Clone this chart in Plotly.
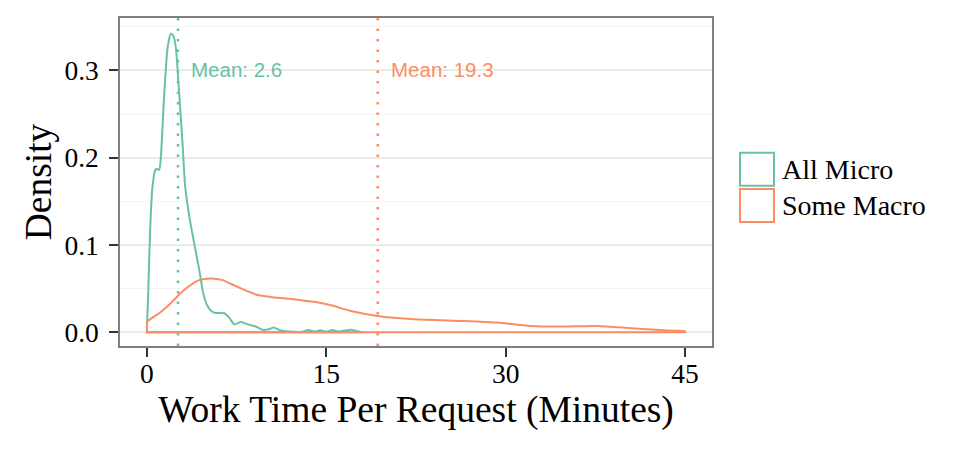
import plotly.graph_objects as go

# ---------------- data ----------------
series_names = ["All Micro", "Some Macro"]
series_colors = ["#66C2A5", "#FC8D62"]
series_means = [2.6, 19.3]

micro_x = [0.0, 0.11, 0.28, 0.47, 0.70, 0.85, 1.03, 1.17, 1.45, 1.73, 2.0, 2.2, 2.42,
           2.7, 2.98, 3.2, 3.54, 3.95, 4.37, 4.7, 5.07, 5.4, 5.77, 6.1, 6.46, 6.88,
           7.3, 7.86, 8.4, 9.1, 9.67, 10.2, 10.6, 11.06, 11.6, 12.3, 13.0, 13.5,
           14.0, 14.5, 15.0, 15.5, 16.0, 16.6, 17.1, 17.6, 18.0]
micro_y = [0.004, 0.045, 0.121, 0.167, 0.186, 0.187, 0.186, 0.201, 0.273, 0.326,
           0.342, 0.340, 0.326, 0.273, 0.216, 0.167, 0.133, 0.102, 0.072, 0.045,
           0.030, 0.024, 0.022, 0.022, 0.0217, 0.0167, 0.009, 0.0118, 0.009, 0.0065,
           0.0027, 0.0034, 0.0053, 0.0027, 0.001, 0.0004, 0.0006, 0.0025, 0.0008,
           0.0022, 0.0005, 0.0025, 0.0008, 0.002, 0.0028, 0.001, 0.0]

macro_x = [0.0, 0.5, 1.03, 1.9, 2.7, 3.54, 4.37, 5.35, 6.33, 7.0, 7.72, 8.4, 9.1,
           10.5, 12.4, 14.1, 15.4, 17.06, 19.3, 22.35, 26.5, 29.3, 32.0, 34.8,
           37.7, 40.5, 43.2, 45.0]
macro_y = [0.0122, 0.017, 0.0217, 0.032, 0.0433, 0.053, 0.0597, 0.0616, 0.0597,
           0.0555, 0.051, 0.047, 0.0433, 0.040, 0.0376, 0.0345, 0.0308, 0.0243,
           0.0186, 0.0148, 0.0129, 0.011, 0.0072, 0.0065, 0.0072, 0.0046, 0.0023,
           0.0015]

x_ticks = [0, 15, 30, 45]
y_ticks = [0.0, 0.1, 0.2, 0.3]
y_tick_text = ["0.0", "0.1", "0.2", "0.3"]

series_x = [micro_x, macro_x]
series_y = [micro_y, macro_y]

# ---------------- figure ----------------
W, H = 975, 450
ML, MR, MT, MB = 120, 263, 18, 104
PW, PH = W - ML - MR, H - MT - MB


def px_to_paper(px, py):
    return (px - ML) / PW, (H - MB - py) / PH


fig = go.Figure()

for xs, ys, col, name in zip(series_x, series_y, series_colors, series_names):
    # baseline closure of the density polygon
    fig.add_trace(go.Scatter(
        x=[xs[-1], xs[-1], xs[0], xs[0]], y=[ys[-1], 0, 0, ys[0]],
        mode="lines", line=dict(color=col, width=2), showlegend=False,
        hoverinfo="skip"))
    fig.add_trace(go.Scatter(
        x=xs, y=ys, mode="lines", name=name,
        line=dict(color=col, width=2, shape="spline", smoothing=0.6),
        showlegend=False))

shapes = []
annotations = []
for m, col in zip(series_means, series_colors):
    shapes.append(dict(type="line", xref="x", yref="paper", x0=m, x1=m, y0=0, y1=1,
                       line=dict(color=col, width=2.5, dash="2.5px,8px"), layer="above"))
    annotations.append(dict(x=m + 1, y=0.3, xref="x", yref="y", text=f"Mean: {m}",
                            showarrow=False, xanchor="left", yanchor="middle", yshift=1,
                            xshift=-1,
                            font=dict(family="Liberation Sans, Arial", size=20.5, color=col)))

# manual legend (outlined square keys)
key_tops = [152.7, 189.0]
for name, col, top in zip(series_names, series_colors, key_tops):
    x0, y1 = px_to_paper(740, top)
    x1, y0 = px_to_paper(774, top + 33)
    shapes.append(dict(type="rect", xref="paper", yref="paper", x0=x0, x1=x1, y0=y0, y1=y1,
                       line=dict(color=col, width=2), fillcolor="rgba(0,0,0,0)"))
    tx, ty = px_to_paper(780, top + 16.5)
    annotations.append(dict(x=tx, y=ty, xref="paper", yref="paper", text=name,
                            showarrow=False, xanchor="left", yanchor="middle",
                            font=dict(family="Liberation Serif, Times New Roman", size=28,
                                      color="black")))

fig.update_layout(
    width=W, height=H,
    margin=dict(l=ML, r=MR, t=MT, b=MB, pad=0),
    paper_bgcolor="white", plot_bgcolor="white",
    font=dict(family="Liberation Serif, Times New Roman", color="black"),
    shapes=shapes, annotations=annotations,
    showlegend=False,
)

fig.update_xaxes(
    range=[-2.25, 47.25], tickvals=x_ticks, ticktext=[str(v) for v in x_ticks],
    showgrid=False, zeroline=False,
    showline=True, linecolor="#7F7F7F", linewidth=1.5, mirror=True,
    ticks="outside", ticklen=9, tickwidth=1.5, tickcolor="#333333",
    ticklabelstandoff=-7,
    tickfont=dict(size=27.5, family="Liberation Serif", color="black"),
    title=dict(text="Work Time Per Request (Minutes)", standoff=0,
               font=dict(size=37.5, family="Liberation Serif", color="black")),
)
fig.update_yaxes(
    range=[-0.0158, 0.36], tickvals=y_ticks, ticktext=y_tick_text,
    showgrid=True, gridcolor="#EBEBEB", gridwidth=1.5,
    minor=dict(tickvals=[0.05, 0.15, 0.25, 0.35], showgrid=True,
               gridcolor="#F5F5F5", gridwidth=1, ticks=""),
    zeroline=False,
    showline=True, linecolor="#7F7F7F", linewidth=1.5, mirror=True,
    ticks="outside", ticklen=9, tickwidth=1.5, tickcolor="#333333",
    ticklabelstandoff=5,
    tickfont=dict(size=27.5, family="Liberation Serif", color="black"),
    title=dict(text="Density", standoff=1,
               font=dict(size=37.5, family="Liberation Serif", color="black")),
)

fig.write_html("out.html")
